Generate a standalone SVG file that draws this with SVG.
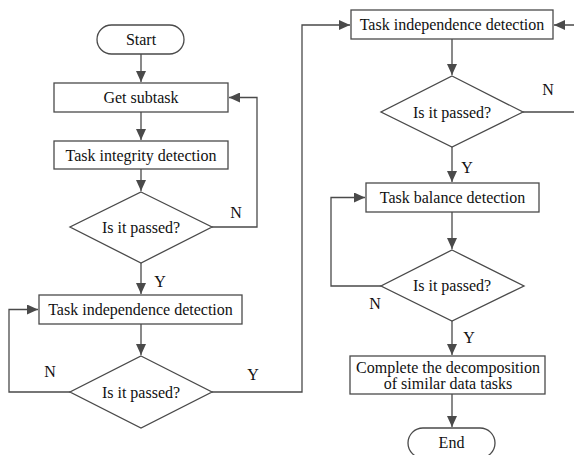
<svg xmlns="http://www.w3.org/2000/svg" width="574" height="455" viewBox="0 0 574 455">
<style>
.box{fill:#fff;stroke:#4a4a4a;stroke-width:1.3}
.t{font-family:"Liberation Serif","Times New Roman",serif;font-size:16px;fill:#111;text-anchor:middle}
.c{fill:none;stroke:#4a4a4a;stroke-width:1.3}
</style>
<defs>
<marker id="ah" markerUnits="userSpaceOnUse" markerWidth="12" markerHeight="10" refX="11" refY="5" orient="auto">
<path d="M0,0 L11,5 L0,10 Z" fill="#4a4a4a"/>
</marker>
</defs>
<rect width="574" height="455" fill="#fff"/>
<g id="connectors">
<path class="c" d="M141,54 V82" marker-end="url(#ah)"/>
<path class="c" d="M141,112 V140" marker-end="url(#ah)"/>
<path class="c" d="M141,169 V191" marker-end="url(#ah)"/>
<path class="c" d="M212,227 H257 V97.5 H229" marker-end="url(#ah)"/>
<path class="c" d="M141,263 V294" marker-end="url(#ah)"/>
<path class="c" d="M141,324 V355" marker-end="url(#ah)"/>
<path class="c" d="M70,392 H9 V309.5 H38" marker-end="url(#ah)"/>
<path class="c" d="M212,392 H302 V25 H350" marker-end="url(#ah)"/>
<path class="c" d="M452,39 V75" marker-end="url(#ah)"/>
<path class="c" d="M523,112 H580 V25 H554" marker-end="url(#ah)"/>
<path class="c" d="M452,147 V182" marker-end="url(#ah)"/>
<path class="c" d="M452,212 V249" marker-end="url(#ah)"/>
<path class="c" d="M381,286 H331 V197.5 H365" marker-end="url(#ah)"/>
<path class="c" d="M452,321 V355" marker-end="url(#ah)"/>
<path class="c" d="M452,394 V427" marker-end="url(#ah)"/>
<text class="t" x="236" y="218">N</text>
<text class="t" x="160" y="287">Y</text>
<text class="t" x="50" y="377">N</text>
<text class="t" x="253" y="380">Y</text>
<text class="t" x="548" y="95">N</text>
<text class="t" x="467" y="173">Y</text>
<text class="t" x="375" y="309">N</text>
<text class="t" x="469" y="343">Y</text>
</g>
<g id="start"><rect class="box" x="97" y="25" width="87" height="29" rx="14.5"/><text class="t" x="141" y="45">Start</text></g>
<g id="get-subtask"><rect class="box" x="54" y="83" width="174" height="29"/><text class="t" x="141" y="103">Get subtask</text></g>
<g id="integrity"><rect class="box" x="54" y="141" width="174" height="28"/><text class="t" x="141" y="160.5">Task integrity detection</text></g>
<g id="check1"><polygon class="box" points="141,192 212,227 141,263 70,227"/><text class="t" x="141" y="233">Is it passed?</text></g>
<g id="independence1"><rect class="box" x="39" y="295" width="203" height="29"/><text class="t" x="140.5" y="315">Task independence detection</text></g>
<g id="check2"><polygon class="box" points="141,356 212,392 141,428 70,392"/><text class="t" x="141" y="398">Is it passed?</text></g>
<g id="independence2"><rect class="box" x="351" y="10" width="202" height="29"/><text class="t" x="452" y="30">Task independence detection</text></g>
<g id="check3"><polygon class="box" points="452,76 523,112 452,147 381,112"/><text class="t" x="452" y="117.5">Is it passed?</text></g>
<g id="balance"><rect class="box" x="366" y="183" width="173" height="29"/><text class="t" x="452.5" y="203">Task balance detection</text></g>
<g id="check4"><polygon class="box" points="452,250 524,286 452,321 381,286"/><text class="t" x="452" y="291">Is it passed?</text></g>
<g id="complete"><rect class="box" x="350" y="356" width="195" height="38"/><text class="t" x="448" y="372.5">Complete the decomposition</text><text class="t" x="448" y="389">of similar data tasks</text></g>
<g id="end"><rect class="box" x="408" y="428" width="87" height="30" rx="15"/><text class="t" x="451.5" y="447.5">End</text></g>
</svg>
